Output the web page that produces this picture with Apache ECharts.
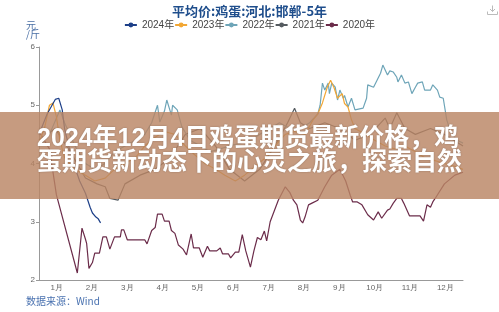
<!DOCTYPE html>
<html><head><meta charset="utf-8">
<script src="https://cdn.jsdelivr.net/npm/echarts@6/dist/echarts.min.js"></script>
<style>html,body{margin:0;padding:0;background:#fff}#c{width:499px;height:312px}</style>
</head><body><div id="c"></div>
<script>
const months = ['1月','2月','3月','4月','5月','6月','7月','8月','9月','10月','11月','12月'];
const years = ['2024年','2023年','2022年','2021年','2020年'];
const colors = ['#1d3f88','#f2a735','#6ea5b8','#555b60','#6b2c4a'];

const days2024 = [0,7,14,17,20,22,28,35,40,44,46,49,51,53];
const vals2024 = [4.5,4.85,5.1,5.12,4.92,4.6,4.1,3.7,3.49,3.25,3.15,3.08,3.05,2.98];

const days2023 = [0,5,9,12,15,18,22,31,40,48,57,65,74,83,91,100,108,117,126,134,143,152,160,169,177,186,195,203,212,220,229,236,240,244,248,251,254,257,261,263,266,269,272,281,289,298,306,315,324,332,341,349,358,365];
const vals2023 = [4.35,4.63,5.0,5.04,4.8,4.4,4.1,3.9,3.8,3.7,3.75,3.9,4.0,4.1,4.3,4.45,4.55,4.5,4.3,4.15,4.0,3.9,3.8,3.7,3.8,3.95,4.1,4.3,4.5,4.55,4.5,4.75,4.85,5.04,5.3,5.43,5.3,5.12,5.2,5.03,4.97,4.75,4.6,4.5,4.4,4.3,4.25,4.3,4.2,4.1,4.05,4.0,3.95,3.9];

const days2022 = [0,9,18,22,31,40,48,57,65,74,83,91,97,102,104,108,110,114,115,119,123,130,139,147,156,164,173,182,190,199,207,216,225,233,240,242,244,246,249,250,252,255,257,259,262,263,266,269,272,279,282,283,288,291,294,296,300,302,305,308,309,312,315,318,321,324,326,330,332,337,339,343,345,348,351,355,360,365];
const vals2022 = [4.3,4.5,4.92,4.7,4.3,4.0,3.9,4.0,4.2,4.3,4.4,4.5,4.7,5.0,4.71,4.9,5.09,4.83,5.0,4.92,4.63,4.4,4.3,4.2,4.25,4.3,4.35,4.4,4.5,4.6,4.7,4.6,4.6,4.7,4.85,5.0,5.38,5.26,5.38,5.2,5.38,5.31,5.09,5.26,5.12,5.17,4.97,5.12,4.92,4.95,5.12,5.35,5.31,5.43,5.55,5.69,5.52,5.59,5.57,5.48,5.4,5.52,5.38,5.4,5.2,5.31,5.38,5.4,5.26,5.26,5.35,5.26,5.14,5.12,4.75,4.5,4.4,4.35];

const days2021 = [0,14,27,40,50,57,61,68,74,87,100,113,126,139,152,164,177,190,203,214,220,225,233,246,259,272,285,298,302,308,315,324,337,349,365];
const vals2021 = [4.4,4.6,4.2,3.75,3.65,3.6,3.4,3.37,3.65,3.8,3.9,4.1,4.5,4.6,4.3,3.9,3.7,3.9,4.3,4.7,4.95,4.7,4.6,4.7,4.6,4.4,4.5,4.78,4.6,4.87,4.6,4.5,4.6,4.5,4.3];

const days2020 = [0,9,15,33,37,40,41,43,46,48,52,55,58,61,65,70,71,73,76,91,93,97,100,102,106,108,112,114,117,120,124,127,131,133,138,141,145,147,153,156,158,163,165,169,172,175,178,182,185,188,191,194,196,199,206,212,216,219,222,225,227,229,232,235,240,246,252,259,264,268,270,274,278,283,288,292,295,300,302,305,308,312,314,319,328,331,334,337,339,341,349,358,365];
const vals2020 = [4.55,4.25,3.46,2.12,2.89,2.7,2.63,2.2,2.3,2.46,2.46,2.74,2.74,2.53,2.74,2.74,2.86,2.86,2.69,2.69,2.62,2.85,2.9,3.13,3.13,3.01,3.01,2.85,2.8,2.6,2.53,2.43,2.79,2.55,2.55,2.39,2.58,2.5,2.5,2.55,2.45,2.45,2.38,2.48,2.48,2.78,2.5,2.22,2.5,2.73,2.69,2.84,2.67,3.0,3.37,3.6,3.5,3.37,3.29,3.03,2.98,3.08,3.29,3.32,3.37,3.6,3.8,3.9,3.7,3.45,3.34,3.34,3.29,3.12,3.03,3.17,3.06,3.2,3.22,3.32,3.4,3.4,3.32,3.1,3.1,3.01,3.29,3.25,3.34,3.4,3.65,3.8,3.85];

const seriesDays = [days2024, days2023, days2022, days2021, days2020];
const seriesVals = [vals2024, vals2023, vals2022, vals2021, vals2020];

const chart = echarts.init(document.getElementById('c'), null, {renderer:'canvas'});
chart.setOption({
  animation: false,
  backgroundColor: '#fff',
  title: {
    text: '平均价:鸡蛋:河北:邯郸-5年',
    left: 'center', top: 0,
    textStyle: {fontSize: 13, fontWeight: 'bold', color: '#1f4e8c', fontFamily: 'Noto Sans CJK SC'}
  },
  legend: {
    top: 15, left: 'center',
    itemWidth: 12, itemHeight: 6, itemGap: 0,
    textStyle: {fontSize: 10, color: '#444', fontFamily: 'Liberation Sans, Noto Sans CJK SC'},
    data: years
  },
  grid: {left: 39, right: 36, top: 47, bottom: 32},
  xAxis: [
    {type: 'category', data: months, boundaryGap: true,
     axisLine: {lineStyle: {color: '#999'}},
     axisTick: {length: 3, lineStyle: {color: '#999'}},
     axisLabel: {fontSize: 8, color: '#666', margin: 4}},
    {type: 'value', min: 0, max: 365, show: false}
  ],
  yAxis: {
    type: 'value', min: 2, max: 6, interval: 1,
    axisLine: {show: true, lineStyle: {color: '#999'}},
    axisTick: {show: true, length: 3, lineStyle: {color: '#999'}},
    axisLabel: {fontSize: 8, color: '#666', margin: 4},
    splitLine: {show: false}
  },
  series: years.map((name, i) => ({
    name, type: 'line', xAxisIndex: 1, color: colors[i],
    symbol: 'circle', symbolSize: 5, showSymbol: false,
    lineStyle: {width: 1.2},
    data: seriesDays[i].map((d, k) => [d, seriesVals[i][k]]),
    z: 10 - i
  })),
  graphic: [
    {type: 'text', left: 26, top: 20, style: {text: '元\n/斤', fontSize: 10, lineHeight: 9, fill: '#4a6fa5', fontFamily: 'Noto Sans CJK SC'}},
    {type: 'text', left: 26, top: 296, style: {text: '数据来源：Wind', fontSize: 10, fill: '#4a72b0', fontFamily: 'Noto Sans CJK SC'}},
    {type: 'group', left: 485, top: 3, children: [
      {type: 'line', shape: {x1: 5, y1: 0, x2: 5, y2: 6}, style: {stroke: '#bbb', lineWidth: 1}},
      {type: 'polyline', shape: {points: [[2.5,3.5],[5,6],[7.5,3.5]]}, style: {stroke: '#bbb', fill: null, lineWidth: 1}},
      {type: 'polyline', shape: {points: [[0,6],[0,9],[10,9],[10,6]]}, style: {stroke: '#bbb', fill: null, lineWidth: 1}}
    ]},
    {type: 'rect', z: 100, shape: {x: 0, y: 112, width: 499, height: 87}, style: {fill: 'rgba(185,133,100,0.82)'}},
    {type: 'text', z: 101, left: 37, top: 127,
     style: {text: '2024年12月4日鸡蛋期货最新价格，鸡\n蛋期货新动态下的心灵之旅，探索自然', fontSize: 25, lineHeight: 24, fontWeight: 'bold', fill: '#fff',
       fontFamily: 'Liberation Sans, Noto Sans CJK SC', textShadowColor: 'rgba(0,0,0,0.25)', textShadowBlur: 2}}
  ]
});
</script></body></html>
